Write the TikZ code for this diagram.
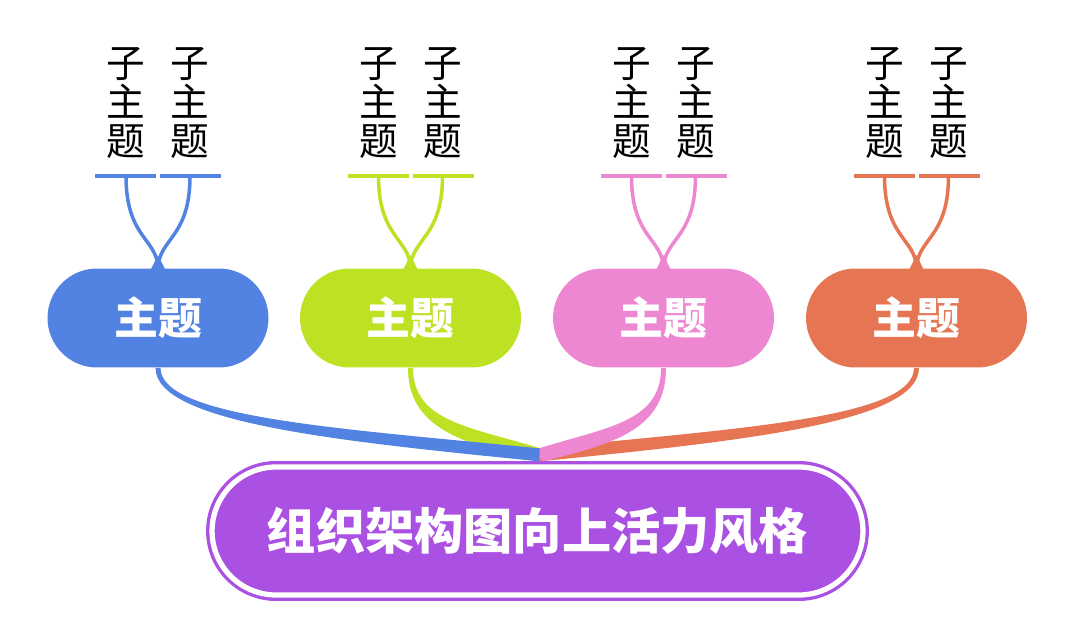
\documentclass[tikz,border=0pt]{standalone}
\usepackage{fontspec}
\newfontfamily\cjk{Noto Sans CJK SC}
\usetikzlibrary{calc}
\usetikzlibrary{positioning}
\definecolor{cblue}{RGB}{82,131,226}
\definecolor{cgreen}{RGB}{189,226,36}
\definecolor{cpink}{RGB}{238,135,210}
\definecolor{corange}{RGB}{229,117,83}
\definecolor{cpurple}{RGB}{170,80,226}

\begin{document}
\begin{tikzpicture}[x=0.02cm, y=-0.02cm,
    topic/.style={fill=#1, rounded corners=0.99cm, minimum width=4.42cm,
        minimum height=1.98cm, inner sep=0pt, text=white,
        font=\cjk\bfseries\fontsize{25}{25}\selectfont},
    subtopic/.style={align=center, inner sep=0pt,
        font=\cjk\fontsize{22}{22.3}\selectfont},
    mainbox/.style={fill=cpurple, draw=cpurple, double=white,
        line width=1.9pt, double distance=3pt, rounded corners=1.28cm,
        minimum width=13.02cm, minimum height=2.56cm, inner sep=0pt,
        text=white, font=\cjk\bfseries\fontsize{28}{28}\selectfont}]
    \useasboundingbox (0,0) rectangle (1075,629);
    % Main box at the bottom
    \node[mainbox] (main) at (537.5,531) {组织架构图向上活力风格};
    \coordinate (hub) at ($(main.north)+(2,-10)$);
    % Topics with their two subtopics
    \foreach \n/\cx/\col in {1/158/cblue, 2/410.5/cgreen, 3/663.5/cpink, 4/916.5/corange} {
        \node[topic=\col] (t\n) at (\cx,318) {主题};
        \node[subtopic] (s\n-a) at (\cx-32,103) {子\\主\\题};
        \node[subtopic] (s\n-b) at (\cx+32,103) {子\\主\\题};
        % Underlines
        \coordinate (u\n-a) at (\cx-32,176);
        \coordinate (u\n-b) at (\cx+32,176);
        \draw[\col, line width=2.3pt] ($(u\n-a)+(-31,0)$) -- ($(u\n-a)+(30,0)$);
        \draw[\col, line width=2.3pt] ($(u\n-b)+(-30,0)$) -- ($(u\n-b)+(31,0)$);
        % Branches into the topic
        \draw[\col, line width=2pt] (u\n-a) .. controls +(0,62) and +(-1,-30) .. (t\n.north);
        \draw[\col, line width=2pt] (u\n-b) .. controls +(0,62) and +(1,-30) .. (t\n.north);
        \fill[\col] ($(t\n.north)+(-7,1)$) -- ($(t\n.north)+(0,-13)$) -- ($(t\n.north)+(7,1)$) -- cycle;
    }
    % Tapered links from topics to the main box
    \fill[corange] ($(t4.south)+(-2.5,0)$) .. controls +(0,50) and +(200,-20) .. ($(hub)+(0,-7)$)
        -- ($(hub)+(0,6)$) .. controls +(200,-20) and +(0,55) .. ($(t4.south)+(2.5,0)$) -- cycle;
    \fill[cgreen] ($(t2.south)+(2.5,0)$) .. controls +(0,55) and +(-70,-22) .. ($(hub)+(4,-6)$)
        -- ($(hub)+(-3,6)$) .. controls +(-75,-18) and +(0,60) .. ($(t2.south)+(-2.5,0)$) -- cycle;
    \fill[cpink] ($(t3.south)+(-2.5,0)$) .. controls +(0,55) and +(70,-22) .. ($(hub)+(-4,-6)$)
        -- ($(hub)+(3,6)$) .. controls +(75,-18) and +(0,60) .. ($(t3.south)+(2.5,0)$) -- cycle;
    \fill[cblue] ($(t1.south)+(2.5,0)$) .. controls +(0,50) and +(-200,-20) .. ($(hub)+(0,-7)$)
        -- ($(hub)+(0,6)$) .. controls +(-200,-20) and +(0,55) .. ($(t1.south)+(-2.5,0)$) -- cycle;
\end{tikzpicture}
\end{document}
